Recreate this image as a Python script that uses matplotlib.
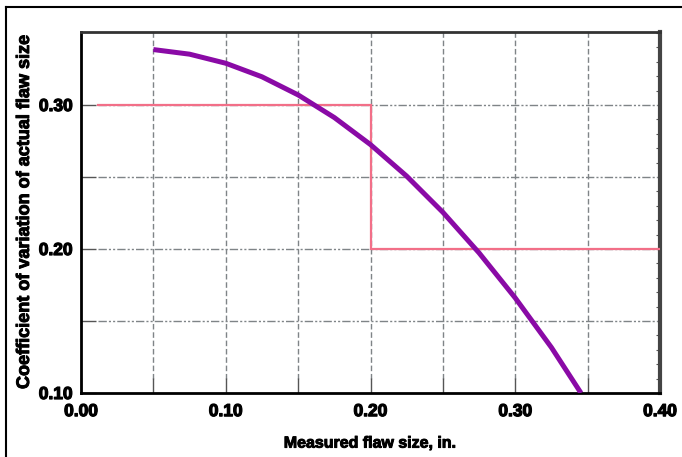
import matplotlib
matplotlib.use("Agg")
import matplotlib.pyplot as plt
import matplotlib.patheffects as pe
from matplotlib.lines import Line2D
from matplotlib.ticker import MultipleLocator, FixedLocator

# Coefficient of variation curve for actual flaw size
cv_x = [0.05, 0.075, 0.10, 0.125, 0.15, 0.175, 0.20, 0.225, 0.25,
        0.275, 0.30, 0.325, 0.3454]
cv_y = [0.3385, 0.3353, 0.3290, 0.3196, 0.3070, 0.2913, 0.2725, 0.2506, 0.2255,
        0.1973, 0.1660, 0.1316, 0.100]

# Stepped requirement line
step_x = [0.012, 0.20, 0.20, 0.40]
step_y = [0.30, 0.30, 0.20, 0.20]

x_ticks = [0.00, 0.10, 0.20, 0.30, 0.40]
x_tick_labels = ["0.00", "0.10", "0.20", "0.30", "0.40"]
y_ticks = [0.10, 0.20, 0.30]
y_tick_labels = ["0.10", "0.20", "0.30"]

plt.rcParams["font.family"] = ["Liberation Sans", "DejaVu Sans"]
plt.rcParams["font.weight"] = "bold"

heavy = [pe.withStroke(linewidth=0.9, foreground="black")]

fig = plt.figure(figsize=(6.82, 4.57), dpi=100)
W, H = 682, 457
ax = fig.add_axes([81 / W, 1 - 393 / H, (660 - 81) / W, (393 - 32) / H])

ax.set_xlim(0.0, 0.40)
ax.set_ylim(0.10, 0.3507)

grid_c = "#7f8487"
# vertical dashed grid at every 0.05
for gx in [0.05, 0.10, 0.15, 0.20, 0.25, 0.30, 0.35]:
    ax.axvline(gx, ymin=0.04, color=grid_c, lw=1.0, ls=(0, (4, 2)), zorder=1)
# horizontal dash-dot-dot grid
for gy in [0.15, 0.20, 0.25, 0.30]:
    ax.axhline(gy, xmin=0.03, color=grid_c, lw=1.0,
               ls=(0, (6, 1.5, 1.5, 1.5, 1.5, 1.5)), zorder=1)

ax.plot(step_x, step_y, color="#f26f88", lw=1.6, zorder=3, solid_joinstyle="miter")
ax.plot(cv_x, cv_y, color="#8a0aa6", lw=3.6, zorder=4, solid_capstyle="butt",
        solid_joinstyle="round")

all_x = [0.0, 0.05, 0.10, 0.15, 0.20, 0.25, 0.30, 0.35, 0.40]
all_y = [0.10, 0.15, 0.20, 0.25, 0.30]
ax.xaxis.set_major_locator(FixedLocator(all_x))
ax.yaxis.set_major_locator(FixedLocator(all_y))
ax.set_xticklabels([x_tick_labels[x_ticks.index(v)] if v in x_ticks else "" for v in all_x])
ax.set_yticklabels([y_tick_labels[y_ticks.index(v)] if v in y_ticks else "" for v in all_y])
ax.tick_params(axis="both", direction="in", length=11, width=1.0, color="#555555",
               labelsize=12.5, pad=8)
ax.tick_params(axis="y", pad=6)
for lbl in ax.get_xticklabels() + ax.get_yticklabels():
    lbl.set_fontweight("bold")
    lbl.set_path_effects(heavy)

# fine ticks on the right edge
ax.yaxis.set_minor_locator(MultipleLocator(0.01))
ax.tick_params(axis="y", which="minor", left=False, right=True, direction="in",
               length=3, width=0.8, color="#555555")

for side in ["left", "bottom"]:
    ax.spines[side].set_linewidth(2.0)
    ax.spines[side].set_color("black")
ax.spines["top"].set_linewidth(2.0)
ax.spines["top"].set_color("#333333")
ax.spines["right"].set_linewidth(3.0)
ax.spines["right"].set_color("#444444")

ax.set_xlabel("Measured flaw size, in.", fontsize=11.5, fontweight="bold",
              path_effects=[pe.withStroke(linewidth=0.7, foreground="black")])
ax.set_ylabel("Coefficient of variation of actual flaw size", fontsize=13,
              fontweight="bold",
              path_effects=[pe.withStroke(linewidth=0.7, foreground="black")])
ax.xaxis.set_label_coords(0.5, -0.118)
ax.yaxis.set_label_coords(-0.083, 0.5)

# page frame lines along the top and left edges
fig.add_artist(Line2D([5.5 / W, 1.0], [1 - 7 / H, 1 - 7 / H], color="black", lw=1.5,
                      transform=fig.transFigure))
fig.add_artist(Line2D([5.5 / W, 5.5 / W], [1 - 7 / H, 0.0], color="black", lw=1.5,
                      transform=fig.transFigure))

fig.savefig("out.png", dpi=100)
